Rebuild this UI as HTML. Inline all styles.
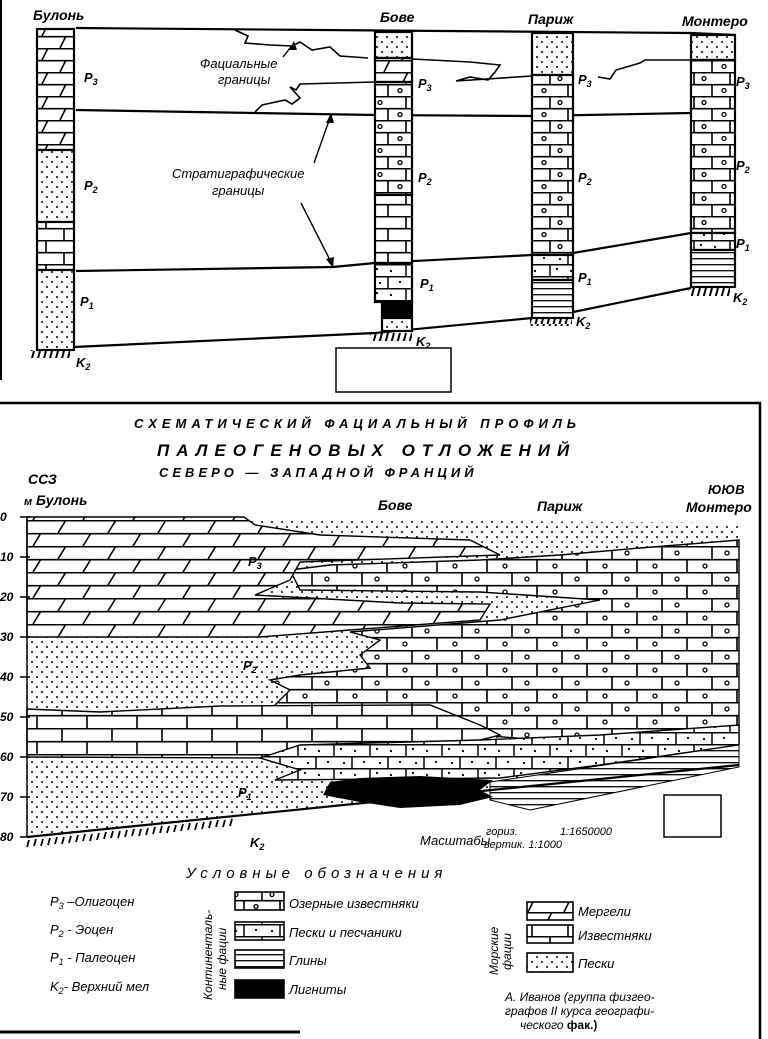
<!DOCTYPE html>
<html><head><meta charset="utf-8"><style>
body{margin:0;background:#fff}
svg{display:block}
text{font-family:"Liberation Sans",sans-serif;font-style:italic;fill:#000}
</style></head><body>
<svg width="768" height="1039" viewBox="0 0 768 1039" xmlns="http://www.w3.org/2000/svg">
<defs>
<pattern id="sand" width="10" height="10" patternUnits="userSpaceOnUse"><rect width="10" height="10" fill="#fff"/><circle cx="2" cy="2" r="1" fill="#000"/><circle cx="7" cy="7" r="1" fill="#000"/></pattern>
<pattern id="marl" width="50" height="26" patternUnits="userSpaceOnUse"><rect width="50" height="26" fill="#fff"/><path d="M0 0.7H50M0 13.7H50M8 13L16 0M33 26L41 13" stroke="#000" stroke-width="1.6" fill="none"/></pattern>
<pattern id="lime" width="50" height="26" patternUnits="userSpaceOnUse"><rect width="50" height="26" fill="#fff"/><path d="M0 0.7H50M0 13.7H50M12 0V13M37 13V26" stroke="#000" stroke-width="1.6" fill="none"/></pattern>
<pattern id="lake" width="50" height="26" patternUnits="userSpaceOnUse"><rect width="50" height="26" fill="#fff"/><path d="M0 0.7H50M0 13.7H50M12 0V13M37 13V26" stroke="#000" stroke-width="1.6" fill="none"/><circle cx="27" cy="7" r="2" fill="none" stroke="#000" stroke-width="1.3"/><circle cx="5" cy="20" r="2" fill="none" stroke="#000" stroke-width="1.3"/></pattern>
<pattern id="cmarl" width="36" height="24" patternUnits="userSpaceOnUse"><rect width="36" height="24" fill="#fff"/><path d="M0 0.7H36M0 12.7H36M6 12L12 0M24 24L30 12" stroke="#000" stroke-width="1.6" fill="none"/></pattern>
<pattern id="clime" width="36" height="24" patternUnits="userSpaceOnUse"><rect width="36" height="24" fill="#fff"/><path d="M0 0.7H36M0 12.7H36M10 0V12M28 12V24" stroke="#000" stroke-width="1.6" fill="none"/></pattern>
<pattern id="clake" width="36" height="24" patternUnits="userSpaceOnUse"><rect width="36" height="24" fill="#fff"/><path d="M0 0.7H36M0 12.7H36M10 0V12M28 12V24" stroke="#000" stroke-width="1.6" fill="none"/><circle cx="20" cy="6.5" r="2" fill="none" stroke="#000" stroke-width="1.3"/><circle cx="4" cy="18.5" r="2" fill="none" stroke="#000" stroke-width="1.3"/></pattern>
<pattern id="sst" width="36" height="24" patternUnits="userSpaceOnUse"><rect width="36" height="24" fill="#fff"/><path d="M0 0.7H36M0 12.7H36M10 0V12M28 12V24" stroke="#000" stroke-width="1.5" fill="none"/><circle cx="17" cy="5" r="1.1"/><circle cx="4" cy="18" r="1.1"/><circle cx="20" cy="19" r="1.1"/><circle cx="31" cy="7" r="1.1"/></pattern>
<pattern id="clay" width="10" height="6" patternUnits="userSpaceOnUse"><rect width="10" height="6" fill="#fff"/><path d="M0 0.7H10" stroke="#000" stroke-width="1.3"/></pattern>
<pattern id="hat" width="6" height="9" patternUnits="userSpaceOnUse"><path d="M4 0L1.5 9" stroke="#000" stroke-width="2"/></pattern>
</defs>
<rect x="0" y="0" width="2" height="380" fill="#000"/>
<!-- TOP SECTION -->
<g stroke="#000" fill="none" stroke-width="2.2">
<path d="M76 28 L691 33 L735 35"/>
<path d="M76 110 L375 115 L532 116 L691 113 L735 113"/>
<path d="M76 271 L333 267 L375 263 L532 255 L573 253 L691 233 L735 228"/>
<path d="M74 347 L375 333 L532 318 L573 312 L691 288"/>
<path d="M235 30 L248 36 L245 43 L270 45 L292 46 L300 42 L312 50 L330 47 L340 56 L368 58" stroke-width="1.6"/>
<path d="M412 59 L470 62 L500 65 L495 72 L488 80 L470 77 L456 81 L532 76" stroke-width="1.6"/>
<path d="M598 77 L610 79 L616 70 L640 63 L645 60 L691 60" stroke-width="1.6"/>
<path d="M375 82 L300 84 L296 90 L290 87 L300 98 L292 104 L285 100 L262 105 L255 112" stroke-width="1.6"/>
<path d="M283 57 L294 43 M314 163 L331 115 M301 203 L333 266" stroke-width="1.4"/>
</g>
<path d="M294 41 L289 50 L297 50Z M331 113 L326 123 L334 123Z M333 268 L326 259 L334 257Z"/>
<g stroke="#000" stroke-width="2.2">
<rect x="37" y="29" width="37" height="121" fill="url(#cmarl)"/>
<rect x="37" y="150" width="37" height="72" fill="url(#sand)"/>
<rect x="37" y="222" width="37" height="48" fill="url(#clime)"/>
<rect x="37" y="270" width="37" height="80" fill="url(#sand)"/>
<rect x="375" y="32" width="37" height="26" fill="url(#sand)"/>
<rect x="375" y="58" width="37" height="24" fill="url(#cmarl)"/>
<rect x="375" y="82" width="37" height="113" fill="url(#clake)"/>
<rect x="375" y="195" width="37" height="68" fill="url(#clime)"/>
<rect x="375" y="263" width="37" height="39" fill="url(#sst)"/>
<rect x="382" y="302" width="30" height="16" fill="#000"/>
<rect x="382" y="318" width="30" height="13" fill="url(#sand)"/>
<rect x="532" y="33" width="41" height="42" fill="url(#sand)"/>
<rect x="532" y="75" width="41" height="180" fill="url(#clake)"/>
<rect x="532" y="255" width="41" height="25" fill="url(#sst)"/>
<rect x="532" y="280" width="41" height="38" fill="url(#clay)"/>
<rect x="691" y="35" width="44" height="25" fill="url(#sand)"/>
<rect x="691" y="60" width="44" height="173" fill="url(#clake)"/>
<rect x="691" y="233" width="44" height="17" fill="url(#sst)"/>
<rect x="691" y="250" width="44" height="37" fill="url(#clay)"/>
</g>
<rect x="30" y="350" width="40" height="8" fill="url(#hat)"/>
<rect x="370" y="333" width="42" height="8" fill="url(#hat)"/>
<rect x="530" y="318" width="42" height="8" fill="url(#hat)"/>
<rect x="688" y="288" width="42" height="8" fill="url(#hat)"/>
<g font-size="14" font-weight="bold">
<text x="33" y="20">Булонь</text><text x="380" y="22">Бове</text><text x="528" y="24">Париж</text><text x="682" y="26">Монтеро</text>
</g>
<g font-size="13">
<text x="200" y="68">Фациальные</text><text x="218" y="84">границы</text>
<text x="172" y="178">Стратиграфические</text><text x="212" y="195">границы</text>
</g>
<g font-size="13" font-weight="bold">
<text x="84" y="82">P<tspan font-size="9" dy="3">3</tspan></text>
<text x="84" y="190">P<tspan font-size="9" dy="3">2</tspan></text>
<text x="80" y="306">P<tspan font-size="9" dy="3">1</tspan></text>
<text x="76" y="367">K<tspan font-size="9" dy="3">2</tspan></text>
<text x="418" y="88">P<tspan font-size="9" dy="3">3</tspan></text>
<text x="418" y="182">P<tspan font-size="9" dy="3">2</tspan></text>
<text x="420" y="288">P<tspan font-size="9" dy="3">1</tspan></text>
<text x="416" y="346">K<tspan font-size="9" dy="3">2</tspan></text>
<text x="578" y="84">P<tspan font-size="9" dy="3">3</tspan></text>
<text x="578" y="182">P<tspan font-size="9" dy="3">2</tspan></text>
<text x="578" y="282">P<tspan font-size="9" dy="3">1</tspan></text>
<text x="576" y="326">K<tspan font-size="9" dy="3">2</tspan></text>
<text x="736" y="86">P<tspan font-size="9" dy="3">3</tspan></text>
<text x="736" y="170">P<tspan font-size="9" dy="3">2</tspan></text>
<text x="736" y="248">P<tspan font-size="9" dy="3">1</tspan></text>
<text x="733" y="302">K<tspan font-size="9" dy="3">2</tspan></text>
</g>
<rect x="336" y="348" width="115" height="44" fill="#fff" stroke="#000" stroke-width="1.5"/>
<!-- BOTTOM SECTION -->
<path d="M0 403 H760 V1039" stroke="#000" stroke-width="2.5" fill="none"/>
<path d="M0 1032 H300" stroke="#000" stroke-width="3"/>
<g font-size="13" font-weight="bold" letter-spacing="5">
<text x="134" y="428">СХЕМАТИЧЕСКИЙ ФАЦИАЛЬНЫЙ ПРОФИЛЬ</text>
<text x="157" y="456" font-size="17" letter-spacing="7">ПАЛЕОГЕНОВЫХ ОТЛОЖЕНИЙ</text>
<text x="159" y="477" letter-spacing="4">СЕВЕРО — ЗАПАДНОЙ ФРАНЦИЙ</text>
</g>
<g font-size="14" font-weight="bold">
<text x="28" y="484" font-style="normal">ССЗ</text>
<text x="708" y="494" font-style="normal" font-size="13">ЮЮВ</text>
<text x="24" y="505"><tspan font-size="11">м</tspan> Булонь</text>
<text x="378" y="510">Бове</text><text x="537" y="511">Париж</text><text x="686" y="512">Монтеро</text>
</g>
<polygon points="27,517 739,523 739,765 27,837" fill="url(#sand)"/>
<polygon points="290,570 330,565 480,560 560,555 640,548 739,540 739,740 600,745 480,735 460,718 300,712 275,705 290,690 270,680 300,675 370,668 360,655 380,640 350,632 500,620 600,600 480,592 300,590" fill="url(#lake)" stroke="#000" stroke-width="1.4"/>
<polygon points="27,517 244,517 255,525 320,535 470,540 500,555 300,562 290,580 255,595 400,603 490,604 480,620 350,630 260,637 27,637" fill="url(#marl)" stroke="#000" stroke-width="1.4"/>
<polygon points="27,709 100,712 220,706 430,705 480,725 500,735 460,745 260,758 27,757" fill="url(#lime)" stroke="#000" stroke-width="1.4"/>
<polygon points="260,758 300,745 480,740 600,735 739,725 739,745 600,765 500,778 275,780 300,770" fill="url(#sst)" stroke="#000" stroke-width="1.4"/>
<polygon points="490,782 739,745 739,767 530,810 490,800" fill="url(#clay)" stroke="#000" stroke-width="1"/>
<polygon points="330,782 360,778 420,776 493,780 480,790 493,797 460,805 400,808 360,802 323,795" fill="#000"/>
<path d="M27 837 L739 765" stroke="#000" stroke-width="2.2"/>
<path d="M27 517 V837" stroke="#000" stroke-width="1.5"/>
<g stroke="#000" stroke-width="1.8">
<path d="M29 840 L27 847 M36 839 L34 846 M43 839 L41 846 M50 838 L48 845 M57 837 L55 844 M64 837 L62 844 M71 836 L69 843 M78 835 L76 842 M85 834 L83 841 M92 834 L90 841 M99 833 L97 840 M106 832 L104 839 M113 831 L111 838 M120 831 L118 838 M127 830 L125 837 M134 829 L132 836 M141 829 L139 836 M148 828 L146 835 M155 827 L153 834 M162 826 L160 833 M169 826 L167 833 M176 825 L174 832 M183 824 L181 831 M190 823 L188 830 M197 823 L195 830 M204 822 L202 829 M211 821 L209 828 M218 820 L216 827 M225 820 L223 827 M232 819 L230 826"/>
</g>
<g font-size="12" font-weight="bold" font-style="normal">
<text x="0" y="521">0</text><text x="0" y="561">10</text><text x="0" y="601">20</text><text x="0" y="641">30</text><text x="0" y="681">40</text><text x="0" y="721">50</text><text x="0" y="761">60</text><text x="0" y="801">70</text><text x="0" y="841">80</text>
</g>
<g stroke="#000" stroke-width="1.5"><path d="M20 517H30M20 557H30M20 597H30M20 637H30M20 677H30M20 717H30M20 757H30M20 797H30M20 837H30"/></g>
<g font-size="13" font-weight="bold">
<text x="248" y="566">P<tspan font-size="9" dy="3">3</tspan></text>
<text x="243" y="670">P<tspan font-size="9" dy="3">2</tspan></text>
<text x="238" y="797">P<tspan font-size="9" dy="3">1</tspan></text>
<text x="250" y="847">K<tspan font-size="9" dy="3">2</tspan></text>
</g>
<g font-size="13"><text x="420" y="845">Масштабы</text></g>
<g font-size="11"><text x="486" y="835">гориз.</text><text x="560" y="835">1:1650000</text><text x="484" y="848">вертик. 1:1000</text></g>
<rect x="664" y="795" width="57" height="42" fill="#fff" stroke="#000" stroke-width="1.5"/>
<text x="186" y="878" font-size="15" letter-spacing="5">Условные обозначения</text>
<g font-size="13">
<text x="50" y="906">P<tspan font-size="9" dy="3">3</tspan><tspan dy="-3"> –Олигоцен</tspan></text>
<text x="50" y="934">P<tspan font-size="9" dy="3">2</tspan><tspan dy="-3"> - Эоцен</tspan></text>
<text x="50" y="962">P<tspan font-size="9" dy="3">1</tspan><tspan dy="-3"> - Палеоцен</tspan></text>
<text x="50" y="991">K<tspan font-size="9" dy="3">2</tspan><tspan dy="-3">- Верхний мел</tspan></text>
<text transform="translate(212,1000) rotate(-90)" font-size="12">Континенталь-</text>
<text transform="translate(226,990) rotate(-90)" font-size="12">ные фации</text>
<text transform="translate(498,975) rotate(-90)" font-size="12">Морские</text>
<text transform="translate(511,970) rotate(-90)" font-size="12">фации</text>
<text x="289" y="908">Озерные известняки</text>
<text x="289" y="937">Пески и песчаники</text>
<text x="289" y="965">Глины</text>
<text x="289" y="994">Лигниты</text>
<text x="578" y="916">Мергели</text>
<text x="578" y="940">Известняки</text>
<text x="578" y="968">Пески</text>
<text x="505" y="1001" font-size="12">А. Иванов (группа физгео-</text>
<text x="505" y="1015" font-size="12">графов II курса географи-</text>
<text x="520" y="1029" font-size="12">ческого <tspan font-weight="bold" font-style="normal">фак.)</tspan></text>
</g>
<g stroke="#000" stroke-width="1.6">
<rect x="235" y="892" width="49" height="18" fill="url(#clake)"/>
<rect x="235" y="922" width="49" height="18" fill="url(#sst)"/>
<rect x="235" y="950" width="49" height="18" fill="url(#clay)"/>
<rect x="235" y="980" width="49" height="18" fill="#000"/>
<rect x="527" y="902" width="46" height="18" fill="url(#cmarl)"/>
<rect x="527" y="925" width="46" height="18" fill="url(#clime)"/>
<rect x="527" y="953" width="46" height="19" fill="url(#sand)"/>
</g>
</svg>
</body></html>
